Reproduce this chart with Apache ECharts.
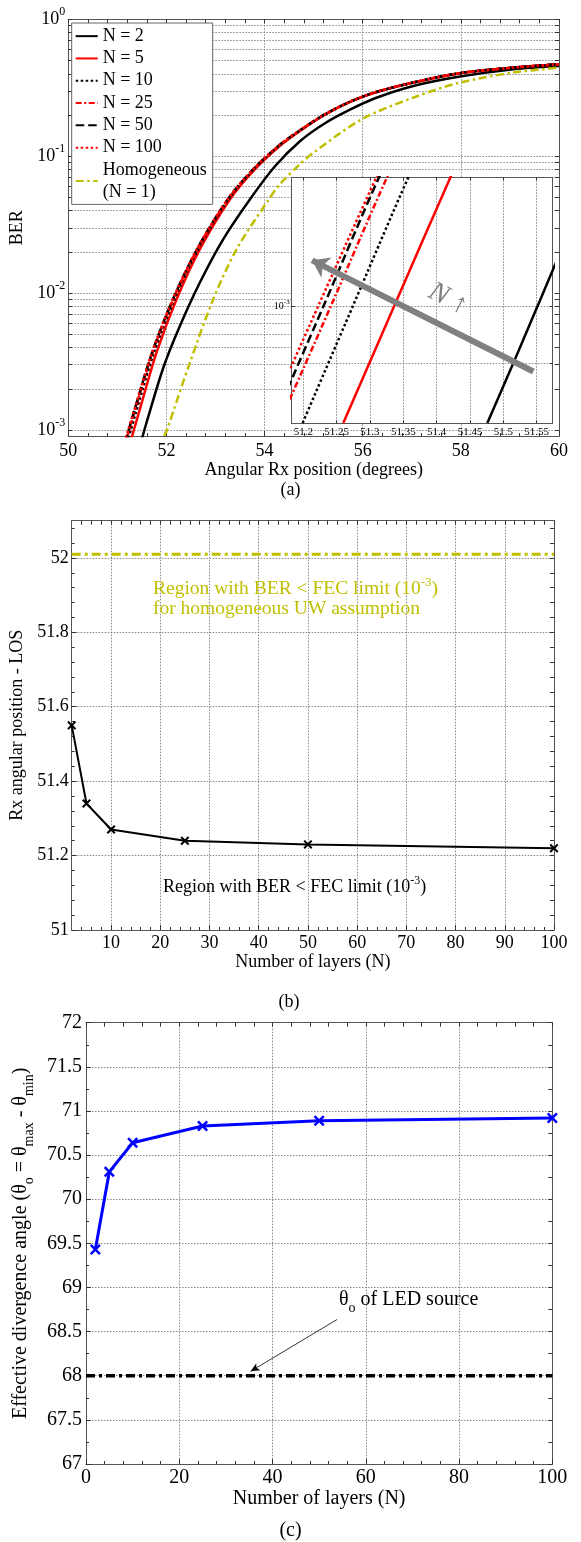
<!DOCTYPE html>
<html>
<head>
<meta charset="utf-8">
<script src="https://cdn.jsdelivr.net/npm/echarts@6.0.0/dist/echarts.min.js"></script>
<style>
html,body{margin:0;padding:0;background:#ffffff;}
#chart{width:581px;height:1542px;}
</style>
</head>
<body>
<div id="chart"></div>
<script>
// ===================== DATA =====================
// Panel (a): BER vs angular Rx position (degrees)
const n2X    = [51.476, 51.515, 51.551, 51.59, 51.936, 52.276, 52.684, 53.159, 53.703, 54.212, 54.721, 55.231, 55.740, 56.250, 57.031, 57.982, 59.069, 60];
const n2BER  = [8.05e-4, 9.0e-4, 1.0e-3, 1.12e-3, 2.85e-3, 5.77e-3, 1.2e-2, 2.48e-2, 4.85e-2, 8.45e-2, 0.1287, 0.174, 0.2185, 0.265, 0.326, 0.382, 0.432, 0.456];
const groupBER = [8.05e-4, 1.0e-3, 1.274e-3, 3.7e-3, 9.04e-3, 2.1e-2, 4.85e-2, 0.0804, 0.1193, 0.153, 0.201, 0.249, 0.292, 0.345, 0.404, 0.444, 0.469];
const n5X    = [51.26, 51.336, 51.421, 51.801, 52.209, 52.684, 53.295, 53.805, 54.314, 54.722, 55.231, 55.741, 56.250, 57.031, 57.982, 59.069, 60];
const n10X   = [51.199, 51.274, 51.358, 51.747, 52.165, 52.649, 53.269, 53.784, 54.298, 54.709, 55.222, 55.735, 56.245, 57.027, 57.979, 59.068, 60];
const n25X   = [51.164, 51.241, 51.326, 51.720, 52.142, 52.632, 53.255, 53.774, 54.290, 54.703, 55.218, 55.731, 56.242, 57.025, 57.978, 59.067, 60];
const n50X   = [51.154, 51.230, 51.314, 51.710, 52.134, 52.625, 53.250, 53.770, 54.287, 54.701, 55.216, 55.730, 56.241, 57.025, 57.978, 59.067, 60];
const n100X  = [51.144, 51.222, 51.310, 51.707, 52.131, 52.623, 53.248, 53.768, 54.286, 54.700, 55.215, 55.730, 56.241, 57.024, 57.978, 59.067, 60];
const homX   = [51.955, 52.01, 52.48, 52.955, 53.432, 54.043, 54.314, 54.721, 54.993, 55.979, 57.031, 57.982, 59.069, 60];
const homBER = [9.08e-4, 1.0e-3, 3.12e-3, 9.04e-3, 2.1e-2, 4.59e-2, 6.25e-2, 8.74e-2, 0.106, 0.186, 0.268, 0.345, 0.408, 0.444];
const legendNames = ['N = 2', 'N = 5', 'N = 10', 'N = 25', 'N = 50', 'N = 100', 'Homogeneous\n(N = 1)'];
const xTicksA = [50, 52, 54, 56, 58, 60];
const yLabelsA = [1e-3, 1e-2, 1e-1, 1];
const xTicksInset = [51.2, 51.25, 51.3, 51.35, 51.4, 51.45, 51.5, 51.55];
const yTicksInset = [9e-4, 1e-3];
const yLabelsInset = [1e-3];

// Panel (b): Rx angular position - LOS vs number of layers
const layersB = [2, 5, 10, 25, 50, 100];
const rxPosB  = [51.55, 51.34, 51.27, 51.24, 51.23, 51.22];
const homogLimitB = 52.01;
const xTicksB = [10, 20, 30, 40, 50, 60, 70, 80, 90, 100];
const yTicksB = [51, 51.2, 51.4, 51.6, 51.8, 52];

// Panel (c): effective divergence angle vs number of layers
const layersC   = [2, 5, 10, 25, 50, 100];
const divAngleC = [69.43, 70.31, 70.64, 70.83, 70.89, 70.92];
const ledThetaC = 68;
const xTicksC = [0, 20, 40, 60, 80, 100];
const yTicksC = [67, 67.5, 68, 68.5, 69, 69.5, 70, 70.5, 71, 71.5, 72];

// ===================== HELPERS =====================
const FONT = 'Liberation Serif';
const GRIDLINE = {show: true, lineStyle: {color: '#6a6a6a', width: 0.8, type: [1.5, 1.5]}};
function r4(v) { return Math.round(v * 10000) / 10000; }
function minorBetween(majors, sub) {
  const out = [];
  for (let i = 0; i < majors.length - 1; i++) {
    const a = majors[i], b = majors[i + 1];
    for (let k = 1; k < sub; k++) out.push(r4(a + (b - a) * k / sub));
  }
  return out;
}
function logTicks(e0, e1) {
  const out = [];
  for (let e = e0; e < e1; e++) for (let m = 1; m <= 9; m++) out.push(m * Math.pow(10, e));
  out.push(Math.pow(10, e1));
  return out;
}
function powLabel(v) { return '{b|10}{s|' + Math.round(Math.log10(v)) + '}'; }
function richPow(big, small) {
  return {
    b: {fontSize: big, fontFamily: FONT, color: '#000', lineHeight: Math.round(big * 1.45)},
    s: {fontSize: small, fontFamily: FONT, color: '#000', verticalAlign: 'top', lineHeight: small}
  };
}
function ax(grid, pos, type, min, max, ticks, len, ex) {
  ex = ex || {};
  const a = {
    type: type, gridIndex: grid, position: pos, min: min, max: max, z: ex.z || 0,
    axisLine: {show: !!ex.line, onZero: false, lineStyle: {color: '#555', width: 1}},
    axisTick: {show: ticks.length > 0, inside: true, length: len, customValues: ticks, lineStyle: {color: '#333', width: 1}},
    axisLabel: ex.label || {show: false},
    splitLine: ex.split || {show: false},
    minorTick: {show: false}, minorSplitLine: {show: false},
    axisPointer: {show: false}
  };
  if (ex.name) {
    a.name = ex.name; a.nameLocation = 'middle'; a.nameGap = ex.nameGap;
    a.nameTextStyle = ex.nameStyle || {fontSize: 18, fontFamily: FONT, color: '#000'};
  }
  return a;
}
function lbl(values, size, margin, fmt, rich) {
  const o = {show: true, customValues: values, fontSize: size, fontFamily: FONT, color: '#000', margin: margin};
  if (fmt) o.formatter = fmt;
  if (rich) o.rich = rich;
  return o;
}

// ===================== AXES =====================
const xAxes = [], yAxes = [];
function addX(a) { xAxes.push(a); return xAxes.length - 1; }
function addY(a) { yAxes.push(a); return yAxes.length - 1; }

// Panel (a)
const yMinA = 0.000904;
const xMinorA = minorBetween(xTicksA, 5);
const yTicksA = logTicks(-3, 0);
const xa = addX(ax(0, 'bottom', 'value', 50, 60, xTicksA, 5, {line: true, label: lbl(xTicksA, 18, 6, v => String(v)), split: GRIDLINE, name: 'Angular Rx position (degrees)', nameGap: 22}));
addX(ax(0, 'bottom', 'value', 50, 60, xMinorA, 3));
addX(ax(0, 'top', 'value', 50, 60, xTicksA.concat(xMinorA), 4, {line: true}));
const ya = addY(ax(0, 'left', 'log', yMinA, 1, yTicksA, 4, {line: true, label: lbl(yLabelsA, 18, 3, powLabel, richPow(18, 12)), split: GRIDLINE, name: 'BER', nameGap: 38}));
addY(ax(0, 'right', 'log', yMinA, 1, yTicksA, 4, {line: true}));

// Inset of panel (a)
const xMinI = 51.1826, xMaxI = 51.574, yMinI = 8.045e-4, yMaxI = 1.2725e-3;
const xi = addX(ax(1, 'bottom', 'value', xMinI, xMaxI, xTicksInset, 3, {z: 11, line: true, label: lbl(xTicksInset, 11, 3, v => String(Math.round(v * 100) / 100)), split: GRIDLINE}));
addX(ax(1, 'top', 'value', xMinI, xMaxI, xTicksInset, 3, {z: 11, line: true}));
const yi = addY(ax(1, 'left', 'log', yMinI, yMaxI, yTicksInset, 3, {z: 11, line: true, label: lbl(yLabelsInset, 10, 2, powLabel, richPow(10, 7)), split: GRIDLINE}));
addY(ax(1, 'right', 'log', yMinI, yMaxI, yTicksInset, 3, {z: 11, line: true}));

// Panel (b)
const xMinorB = [];
for (let v = 4; v < 100; v += 2) if (v % 10 !== 0) xMinorB.push(v);
const yMinorB = minorBetween(yTicksB, 5).concat([52.04, 52.08]);
const xb = addX(ax(2, 'bottom', 'value', 2, 100, xTicksB, 5, {line: true, label: lbl(xTicksB, 18, 4, v => String(v)), split: GRIDLINE, name: 'Number of layers (N)', nameGap: 22}));
addX(ax(2, 'bottom', 'value', 2, 100, xMinorB, 3));
addX(ax(2, 'top', 'value', 2, 100, xTicksB.concat(xMinorB), 4, {line: true}));
const yb = addY(ax(2, 'left', 'value', 51, 52.1, yTicksB, 5, {line: true, label: lbl(yTicksB, 18, 3, v => String(Math.round(v * 10) / 10)), split: GRIDLINE, name: 'Rx angular position - LOS', nameGap: 40}));
addY(ax(2, 'left', 'value', 51, 52.1, yMinorB, 3));
addY(ax(2, 'right', 'value', 51, 52.1, yTicksB.concat(yMinorB), 4, {line: true}));

// Panel (c)
const xMinorC = minorBetween(xTicksC, 5);
const yMinorC = minorBetween(yTicksC, 2);
const xc = addX(ax(3, 'bottom', 'value', 0, 100, xTicksC, 5, {line: true, label: lbl(xTicksC, 20, 4, v => String(v)), split: GRIDLINE, name: 'Number of layers (N)', nameGap: 23, nameStyle: {fontSize: 20, fontFamily: FONT, color: '#000'}}));
addX(ax(3, 'bottom', 'value', 0, 100, xMinorC, 3));
addX(ax(3, 'top', 'value', 0, 100, xTicksC.concat(xMinorC), 4, {line: true}));
const yc = addY(ax(3, 'left', 'value', 67, 72, yTicksC, 5, {line: true, label: lbl(yTicksC, 20, 4, v => String(Math.round(v * 10) / 10)), split: GRIDLINE,
  name: 'Effective divergence angle (θ{sub|o} = θ{sub|max} - θ{sub|min})', nameGap: 46,
  nameStyle: {fontSize: 20, fontFamily: FONT, color: '#000', rich: {sub: {fontSize: 14, fontFamily: FONT, color: '#000', verticalAlign: 'bottom', lineHeight: 30}}}}));
addY(ax(3, 'left', 'value', 67, 72, yMinorC, 3));
addY(ax(3, 'right', 'value', 67, 72, yTicksC.concat(yMinorC), 4, {line: true}));

// ===================== SERIES =====================
const CROSS = 'path://M0,1.6L1.6,0L5,3.4L8.4,0L10,1.6L6.6,5L10,8.4L8.4,10L5,6.6L1.6,10L0,8.4L3.4,5Z';
const YELLOW = '#bfbf00';
const curveDefs = [
  {name: legendNames[0], xs: n2X,   ys: n2BER,    color: '#000000', dash: 'solid'},
  {name: legendNames[1], xs: n5X,   ys: groupBER, color: '#ff0000', dash: 'solid'},
  {name: legendNames[2], xs: n10X,  ys: groupBER, color: '#000000', dash: [2.5, 2.5]},
  {name: legendNames[3], xs: n25X,  ys: groupBER, color: '#ff0000', dash: [6, 2.5, 2, 2.5]},
  {name: legendNames[4], xs: n50X,  ys: groupBER, color: '#000000', dash: [8.5, 4]},
  {name: legendNames[5], xs: n100X, ys: groupBER, color: '#ff0000', dash: [2.5, 2.5]},
  {name: legendNames[6], xs: homX,  ys: homBER,   color: YELLOW,    dash: [8, 3.5, 2.5, 3.5]}
];
function curve(d, xIdx, yIdx, z, nameSuffix) {
  return {
    type: 'line', name: d.name + (nameSuffix || ''), xAxisIndex: xIdx, yAxisIndex: yIdx,
    data: d.xs.map((x, i) => [x, d.ys[i]]),
    symbol: 'none', showSymbol: false, smooth: 0.3, z: z, silent: true,
    lineStyle: {color: d.color, width: 2.5, type: d.dash, cap: 'butt'},
    itemStyle: {color: d.color}, emphasis: {disabled: true}
  };
}
const series = [];
curveDefs.forEach(d => series.push(curve(d, xa, ya, 2)));
const insetSeries = curveDefs.slice(0, 6).map(d => curve(d, xi, yi, 12, ' (inset)'));
// inset arrow annotation ("N increasing"), attached to the first inset curve
insetSeries[0].markLine = {
  silent: true, animation: false, symbol: ['none', 'arrow'], symbolSize: [17, 16], z: 13,
  lineStyle: {color: '#808080', width: 6, type: 'solid'}, label: {show: false}, emphasis: {disabled: true},
  data: [[{coord: [51.545, 8.86e-4]}, {coord: [51.2132, 1.09e-3]}]]
};
insetSeries.forEach(s => series.push(s));
// panel (b)
series.push({
  type: 'line', name: 'Rx LOS', xAxisIndex: xb, yAxisIndex: yb,
  data: layersB.map((n, i) => [n, rxPosB[i]]), symbol: CROSS, symbolSize: 9, showSymbol: true,
  lineStyle: {color: '#000', width: 2}, itemStyle: {color: '#000'}, z: 3, silent: true
});
series.push({
  type: 'line', name: 'Homogeneous limit', xAxisIndex: xb, yAxisIndex: yb,
  data: [[layersB[0], homogLimitB], [layersB[layersB.length - 1], homogLimitB]], symbol: 'none',
  lineStyle: {color: YELLOW, width: 3, type: [9, 4, 3, 4]}, z: 3, silent: true
});
// panel (c)
series.push({
  type: 'line', name: 'Effective divergence', xAxisIndex: xc, yAxisIndex: yc,
  data: layersC.map((n, i) => [n, divAngleC[i]]), symbol: CROSS, symbolSize: 11, showSymbol: true,
  lineStyle: {color: '#0000ff', width: 3}, itemStyle: {color: '#0000ff'}, z: 3, silent: true
});
series.push({
  type: 'line', name: 'LED theta', xAxisIndex: xc, yAxisIndex: yc,
  data: [[xTicksC[0], ledThetaC], [xTicksC[xTicksC.length - 1], ledThetaC]], symbol: 'none',
  lineStyle: {color: '#000', width: 3.5, type: [9, 4, 3, 4]}, z: 3, silent: true,
  markLine: {
    silent: true, animation: false, symbol: ['none', 'arrow'], symbolSize: [6, 9],
    lineStyle: {color: '#000', width: 0.8, type: 'solid'}, label: {show: false}, emphasis: {disabled: true},
    data: [[{coord: [53.83, 68.637]}, {coord: [35.3, 68.05]}]]
  }
});

// ===================== OPTION =====================
const option = {
  animation: false,
  backgroundColor: '#ffffff',
  textStyle: {fontFamily: FONT},
  grid: [
    {left: 68.3, top: 19.3, width: 490.7, height: 416.7, outerBoundsMode: 'none'},
    {left: 291.7, top: 177.3, width: 261, height: 246, show: true, backgroundColor: '#ffffff', borderWidth: 0, z: 10, outerBoundsMode: 'none'},
    {left: 71.7, top: 520.7, width: 482.3, height: 409.3, outerBoundsMode: 'none'},
    {left: 86, top: 1022.7, width: 466.3, height: 441.3, outerBoundsMode: 'none'}
  ],
  xAxis: xAxes,
  yAxis: yAxes,
  legend: {
    left: 71.7, top: 23, orient: 'vertical', itemGap: 0, itemWidth: 22, itemHeight: 14,
    padding: [2, 6, 1, 3], backgroundColor: '#ffffff', borderColor: '#666', borderWidth: 1, borderRadius: 0,
    selectedMode: false, z: 5,
    itemStyle: {opacity: 0},
    textStyle: {fontFamily: FONT, fontSize: 18, color: '#000', lineHeight: 22.3},
    data: legendNames
  },
  series: series,
  graphic: [
    {type: 'text', x: 290.5, y: 490, style: {text: '(a)', fontSize: 18, fontFamily: FONT, fill: '#000', align: 'center', verticalAlign: 'middle'}},
    {type: 'text', x: 289, y: 1002, style: {text: '(b)', fontSize: 18, fontFamily: FONT, fill: '#000', align: 'center', verticalAlign: 'middle'}},
    {type: 'text', x: 290.5, y: 1531, style: {text: '(c)', fontSize: 20, fontFamily: FONT, fill: '#000', align: 'center', verticalAlign: 'middle'}},
    {type: 'text', x: 448, y: 299, rotation: -0.468, z: 20, style: {text: 'N ↑', fontSize: 28, fontStyle: 'italic', fontFamily: FONT, fill: '#808080', align: 'center', verticalAlign: 'middle'}},
    {type: 'text', x: 153, y: 589, z: 20, style: {text: '{t|Region with BER < FEC limit (10}{s|-3}{t|)}', align: 'left', verticalAlign: 'middle',
      rich: {t: {fontSize: 19.5, fontFamily: FONT, fill: YELLOW, lineHeight: 26}, s: {fontSize: 13, fontFamily: FONT, fill: YELLOW, verticalAlign: 'top', lineHeight: 13}}}},
    {type: 'text', x: 153, y: 609, z: 20, style: {text: 'for homogeneous UW assumption', fontSize: 19.5, fontFamily: FONT, fill: YELLOW, align: 'left', verticalAlign: 'middle'}},
    {type: 'text', x: 163, y: 887, z: 20, style: {text: '{t|Region with BER < FEC limit (10}{s|-3}{t|)}', align: 'left', verticalAlign: 'middle',
      rich: {t: {fontSize: 18, fontFamily: FONT, fill: '#000', lineHeight: 24}, s: {fontSize: 12, fontFamily: FONT, fill: '#000', verticalAlign: 'top', lineHeight: 12}}}},
    {type: 'text', x: 339, y: 1300, z: 20, style: {text: '{t|θ}{o|o}{t| of LED source}', align: 'left', verticalAlign: 'middle',
      rich: {t: {fontSize: 20, fontFamily: FONT, fill: '#000', lineHeight: 30}, o: {fontSize: 14, fontFamily: FONT, fill: '#000', verticalAlign: 'bottom', lineHeight: 14}}}}
  ]
};

const chart = echarts.init(document.getElementById('chart'), null, {renderer: 'canvas', width: 581, height: 1542});
chart.setOption(option);
</script>
</body>
</html>
